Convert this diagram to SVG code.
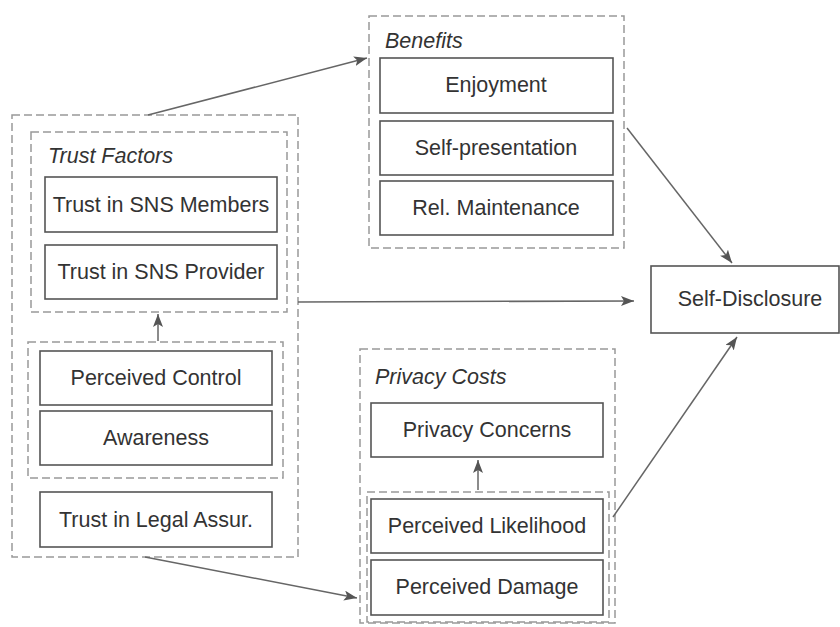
<svg xmlns="http://www.w3.org/2000/svg" width="840" height="627" viewBox="0 0 840 627">
<defs>
<style>
.box{fill:#fff;stroke:#555;stroke-width:1.6}
.grp{fill:none;stroke:#999;stroke-width:1.5;stroke-dasharray:8,4}
.t{font-family:"Liberation Sans",Arial,sans-serif;font-size:21.5px;fill:#333;text-anchor:middle}
.ti{font-family:"Liberation Sans",Arial,sans-serif;font-size:21.5px;fill:#333;font-style:italic}
.c{fill:none;stroke:#666;stroke-width:1.5}
</style>
<marker id="ah" markerUnits="userSpaceOnUse" markerWidth="14" markerHeight="12" refX="13" refY="5" orient="auto">
<path d="M0,0 L13,5 L0,10 L3,5 z" fill="#555"/>
</marker>
</defs>
<rect width="840" height="627" fill="#fff"/>

<g id="trust-outer"><rect class="grp" x="12" y="115" width="286" height="442"/></g>
<g id="trust-factors">
<rect class="grp" x="31" y="132" width="256" height="180"/>
<text class="ti" x="48" y="163">Trust Factors</text>
</g>
<g id="sns-members"><rect class="box" x="45" y="177" width="232" height="55"/><text class="t" x="161" y="212">Trust in SNS Members</text></g>
<g id="sns-provider"><rect class="box" x="45" y="245" width="232" height="54"/><text class="t" x="161" y="279">Trust in SNS Provider</text></g>
<g id="control-group"><rect class="grp" x="28" y="342" width="255" height="136"/></g>
<g id="perceived-control"><rect class="box" x="40" y="351" width="232" height="54"/><text class="t" x="156" y="385">Perceived Control</text></g>
<g id="awareness"><rect class="box" x="40" y="411" width="232" height="54"/><text class="t" x="156" y="445">Awareness</text></g>
<g id="legal"><rect class="box" x="40" y="492" width="232" height="55"/><text class="t" x="156" y="527">Trust in Legal Assur.</text></g>

<g id="benefits">
<rect class="grp" x="369" y="16" width="255" height="232"/>
<text class="ti" x="385" y="48">Benefits</text>
</g>
<g id="enjoyment"><rect class="box" x="380" y="58" width="233" height="55"/><text class="t" x="496" y="92">Enjoyment</text></g>
<g id="self-presentation"><rect class="box" x="380" y="121" width="233" height="54"/><text class="t" x="496" y="155">Self-presentation</text></g>
<g id="rel-maintenance"><rect class="box" x="380" y="181" width="233" height="54"/><text class="t" x="496" y="215">Rel. Maintenance</text></g>

<g id="privacy-costs">
<rect class="grp" x="360" y="349" width="255" height="274"/>
<text class="ti" x="375" y="384">Privacy Costs</text>
</g>
<g id="privacy-concerns"><rect class="box" x="371" y="403" width="232" height="54"/><text class="t" x="487" y="437">Privacy Concerns</text></g>
<g id="risk-group"><rect class="grp" x="367" y="492" width="242" height="130"/></g>
<g id="likelihood"><rect class="box" x="371" y="499" width="232" height="54"/><text class="t" x="487" y="533">Perceived Likelihood</text></g>
<g id="damage"><rect class="box" x="371" y="560" width="232" height="55"/><text class="t" x="487" y="594">Perceived Damage</text></g>

<g id="self-disclosure"><rect class="box" x="651" y="266" width="188" height="67"/><text class="t" x="750" y="306">Self-Disclosure</text></g>

<g id="connectors">
<line class="c" x1="148" y1="115" x2="367" y2="58" marker-end="url(#ah)"/>
<line class="c" x1="627" y1="128" x2="732" y2="263" marker-end="url(#ah)"/>
<line class="c" x1="298" y1="302" x2="634" y2="301" marker-end="url(#ah)"/>
<line class="c" x1="613" y1="517" x2="737" y2="337" marker-end="url(#ah)"/>
<line class="c" x1="145" y1="557" x2="357" y2="598" marker-end="url(#ah)"/>
<line class="c" x1="158" y1="341" x2="158" y2="314" marker-end="url(#ah)"/>
<line class="c" x1="478" y1="490" x2="478" y2="460" marker-end="url(#ah)"/>
</g>
</svg>
